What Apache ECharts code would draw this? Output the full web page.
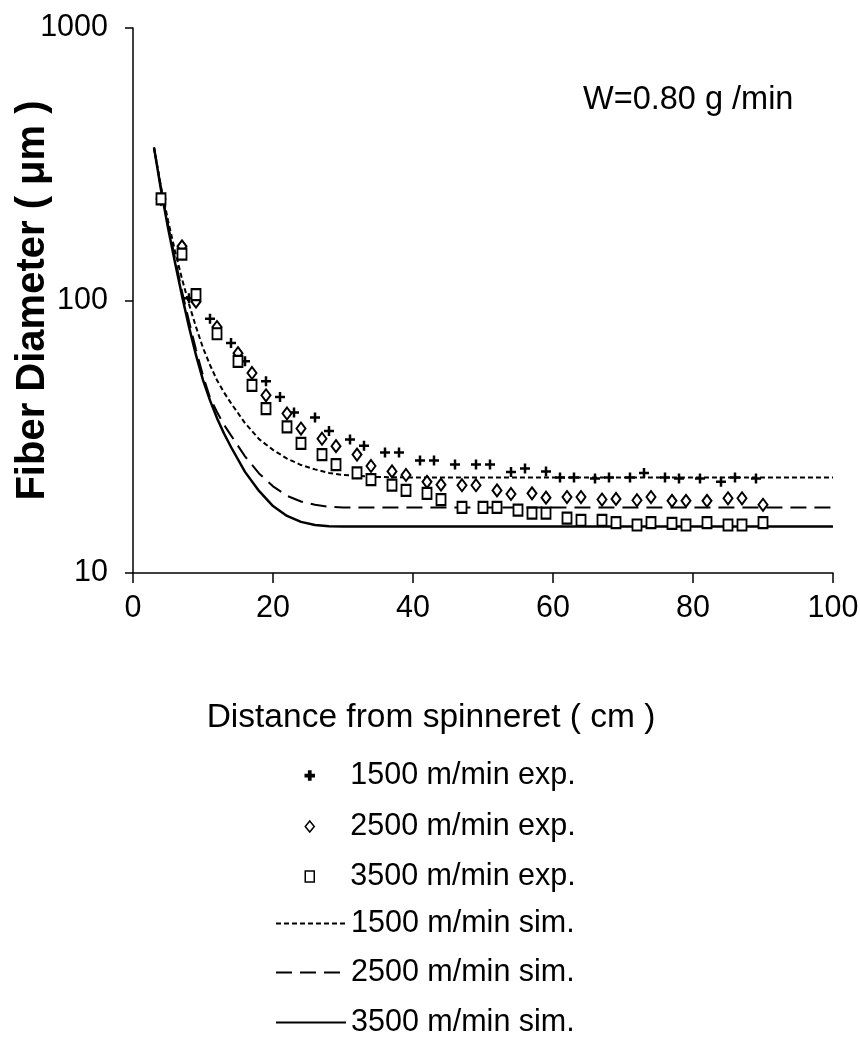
<!DOCTYPE html>
<html>
<head>
<meta charset="utf-8">
<script src="https://cdn.jsdelivr.net/npm/echarts@6/dist/echarts.min.js"></script>
<style>
html,body{margin:0;padding:0;background:#fff;}
#chart{width:860px;height:1040px;}
</style>
</head>
<body>
<div id="chart"></div>
<script>
// ---- data ----
const xTicks = [0, 20, 40, 60, 80, 100];
const yTicks = [10, 100, 1000];

const exp1500X = [4,7,8,11,14,16,19,21,23,26,28,31,33,36,38,41,43,46,49,51,54,56,59,61,63,66,68,71,73,76,78,81,84,86,89];
const exp1500Y = [236,153,102,85.7,69.8,59.8,50.5,44.2,38.8,37.2,33.2,30.9,29.3,27.7,27.7,25.9,25.9,25.0,25.0,25.0,23.5,24.2,23.6,22.4,22.4,22.2,22.4,22.4,23.3,22.4,22.2,22.2,21.6,22.4,22.2];

const exp2500X = [4,7,9,12,15,17,19,22,24,27,29,32,34,37,39,42,44,47,49,52,54,57,59,62,64,67,69,72,74,77,79,82,85,87,90];
const exp2500Y = [236,158,99,79.9,64.1,54.2,44.9,38.5,33.9,31.1,29.2,27.2,24.7,23.6,22.9,21.6,21.1,21.0,21.0,20.1,19.5,19.6,18.9,19.0,19.0,18.6,18.7,18.5,19.0,18.4,18.4,18.4,18.8,18.8,17.8];

const exp3500X = [4,7,9,12,15,17,19,22,24,27,29,32,34,37,39,42,44,47,50,52,55,57,59,62,64,67,69,72,74,77,79,82,85,87,90];
const exp3500Y = [236,148,105,75.5,59.8,48.8,40.1,34.4,29.9,27.2,25.0,23.3,22.0,21.0,20.1,19.6,18.6,17.4,17.4,17.4,17.0,16.6,16.6,15.9,15.6,15.6,15.3,15.0,15.3,15.2,15.0,15.3,15.0,15.0,15.3];

const simX    = [3,4,5,6,7,8,9,10,11,12,13,14,16,18,20,22,24,26,28,30,35,40,50,60,70,80,90,100];
const sim1500 = [364,262,197,152,120,97,80,67,58,51,46,42,35.5,31,28.3,26.3,24.9,24.0,23.3,22.9,22.5,22.4,22.4,22.4,22.4,22.4,22.4,22.4];
const sim2500 = [364,258,190,143,108,84,66,53,44,39,35,32,26.8,23.2,20.8,19.2,18.3,17.8,17.5,17.4,17.4,17.4,17.4,17.4,17.4,17.4,17.4,17.4];
const sim3500 = [364,255,185,138,104,80,63,51,43,37,32.5,29,23.5,20,17.6,16.2,15.4,15.0,14.85,14.8,14.8,14.8,14.8,14.8,14.8,14.8,14.8,14.8];

const expNames = ['1500 m/min exp.','2500 m/min exp.','3500 m/min exp.'];
const simNames = ['1500 m/min sim.','2500 m/min sim.','3500 m/min sim.'];
const annotation = 'W=0.80 g /min';

// ---- chart ----
const FONT = '"Liberation Sans",Arial,sans-serif';
const PLUS = 'path://M3.75,0H6.25V10H3.75Z M0,3.75H10V6.25H0Z';
const zip = (xs, ys) => xs.map((x, i) => [x, ys[i]]);

const chart = echarts.init(document.getElementById('chart'), null, {renderer: 'canvas'});

function scatter(name, xs, ys, symbol, size, fill, bw) {
  return {
    name, type: 'scatter', data: zip(xs, ys), symbol, symbolSize: size,
    z: 5, itemStyle: {color: fill, borderColor: '#000', borderWidth: bw, opacity: 1},
    emphasis: {disabled: true}
  };
}
function line(name, ys, dash, width) {
  return {
    name, type: 'line', data: zip(simX, ys), showSymbol: false, symbol: 'none',
    smooth: false, z: 2,
    lineStyle: {color: '#000', width, type: dash},
    itemStyle: {color: '#000'},
    emphasis: {disabled: true}
  };
}

const legendText = {fontFamily: FONT, fontSize: 30.5, color: '#000', lineHeight: 30};
const rowCenters = [775, 826, 876, 923, 972, 1022];

const legends = [];
expNames.forEach((n, i) => legends.push({
  orient: 'vertical', left: 304.5, top: rowCenters[i] - 15, padding: 0,
  itemWidth: 9, itemHeight: 11,
  textStyle: Object.assign({padding: [0, 0, 0, 31]}, legendText),
  data: [n], selectedMode: false, itemStyle: {borderWidth: 1.5}
}));
simNames.forEach((n, i) => legends.push({
  orient: 'vertical', left: 275, top: rowCenters[i + 3] - 15, padding: 0,
  itemWidth: 70, itemHeight: 10,
  textStyle: legendText,
  data: [{name: n, itemStyle: {color: 'rgba(0,0,0,0)', borderWidth: 0, opacity: 0}}],
  selectedMode: false
}));

const option = {
  animation: false,
  backgroundColor: '#fff',
  grid: {left: 133, right: 27, top: 28, bottom: 467, containLabel: false, outerBoundsMode: 'none'},
  xAxis: {
    type: 'value', min: xTicks[0], max: xTicks[xTicks.length - 1], interval: xTicks[1] - xTicks[0],
    name: 'Distance from spinneret ( cm )', nameLocation: 'middle', nameGap: 128, nameMoveOverlap: false,
    nameTextStyle: {fontFamily: FONT, fontSize: 33.5, color: '#000', padding: [0, 104, 0, 0]},
    axisLine: {lineStyle: {color: '#000', width: 1.5}},
    axisTick: {show: true, inside: false, length: 10, lineStyle: {color: '#000', width: 1.5}},
    axisLabel: {fontFamily: FONT, fontSize: 30.5, color: '#000', margin: 20},
    splitLine: {show: false}
  },
  yAxis: {
    type: 'log', logBase: 10, min: yTicks[0], max: yTicks[yTicks.length - 1],
    name: 'Fiber Diameter ( μm )', nameLocation: 'middle', nameRotate: 90, nameGap: 80, nameMoveOverlap: false,
    nameTextStyle: {fontFamily: FONT, fontWeight: 'bold', fontSize: 40, color: '#000'},
    axisLine: {show: true, lineStyle: {color: '#000', width: 1.5}},
    axisTick: {show: true, inside: false, length: 8, lineStyle: {color: '#000', width: 1.5}},
    axisLabel: {fontFamily: FONT, fontSize: 30.5, color: '#000', margin: 25,
      formatter: v => String(Math.round(v))},
    splitLine: {show: false},
    minorTick: {show: false}
  },
  legend: legends,
  graphic: [{
    type: 'text', left: 583, top: 84,
    style: {text: annotation, font: '32.5px ' + FONT, fill: '#000'}
  }],
  series: [
    line(simNames[0], sim1500, [5, 3], 2),
    line(simNames[1], sim2500, [16, 8], 2),
    line(simNames[2], sim3500, 'solid', 2.5),
    scatter(expNames[0], exp1500X, exp1500Y, PLUS, 10, '#000', 0),
    scatter(expNames[1], exp2500X, exp2500Y, 'diamond', [9, 12], '#fff', 2),
    scatter(expNames[2], exp3500X, exp3500Y, 'rect', [9, 11], '#fff', 2)
  ]
};
chart.setOption(option);
</script>
</body>
</html>
